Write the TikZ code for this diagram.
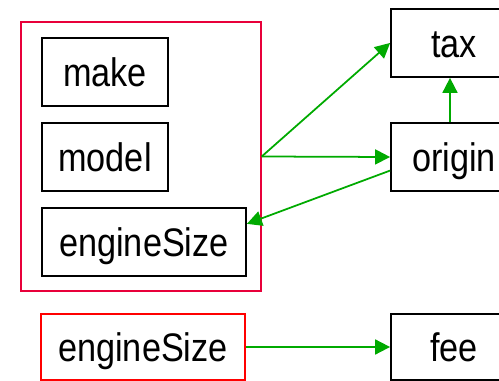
\documentclass[tikz,border=0pt]{standalone}
\usepackage{fontspec}
\setmainfont{Liberation Sans}
\usetikzlibrary{arrows.meta}
\definecolor{DGRed}{HTML}{E8003A}
\definecolor{DGPure}{HTML}{FF0000}
\definecolor{DGGreen}{HTML}{00AA00}
\newcommand{\nm}[1]{\scalebox{0.86}[1]{#1}}
\tikzset{
  attr/.style={draw=black,line width=1.5pt,inner sep=0pt,minimum height=2.04cm,
    text height=25.6pt,text depth=0pt,font=\fontsize{34}{40}\selectfont},
  dep/.style={DGGreen,line width=1.5pt,-{Triangle[length=0.45cm,width=0.45cm]}}
}
\begin{document}
\begin{tikzpicture}[x=1cm,y=1cm]
\path[use as bounding box] (0,0) rectangle (14.97,11.43);
\node[draw=DGRed,line width=1.2pt,minimum width=7.20cm,minimum height=8.07cm] (group) at (4.23,6.735) {};
\node[attr,minimum width=3.78cm] (make) at (3.15,9.27) {\nm{make}};
\node[attr,minimum width=3.78cm] (model) at (3.15,6.72) {\nm{model}};
\node[attr,minimum width=6.12cm] (eng) at (4.32,4.17) {\nm{engineSize}};
\node[attr,minimum width=3.78cm] (tax) at (13.62,10.14) {\nm{tax}};
\node[attr,minimum width=3.78cm] (origin) at (13.62,6.72) {\nm{origin}};
\node[attr,draw=DGPure,minimum width=6.12cm,minimum height=1.98cm] (eng2) at (4.29,1.02) {\nm{engineSize}};
\node[attr,minimum width=3.78cm,minimum height=1.98cm] (fee) at (13.62,1.02) {\nm{fee}};
\draw[dep] (group.east) -- (tax.west);
\draw[dep] (group.east) -- (origin.west);
\draw[dep] (origin.192) -- (eng.10);
\draw[dep] (origin.north -| 13.50,0) -- (tax.south -| 13.50,0);
\draw[dep] (eng2.east) -- (fee.west);
\end{tikzpicture}
\end{document}
